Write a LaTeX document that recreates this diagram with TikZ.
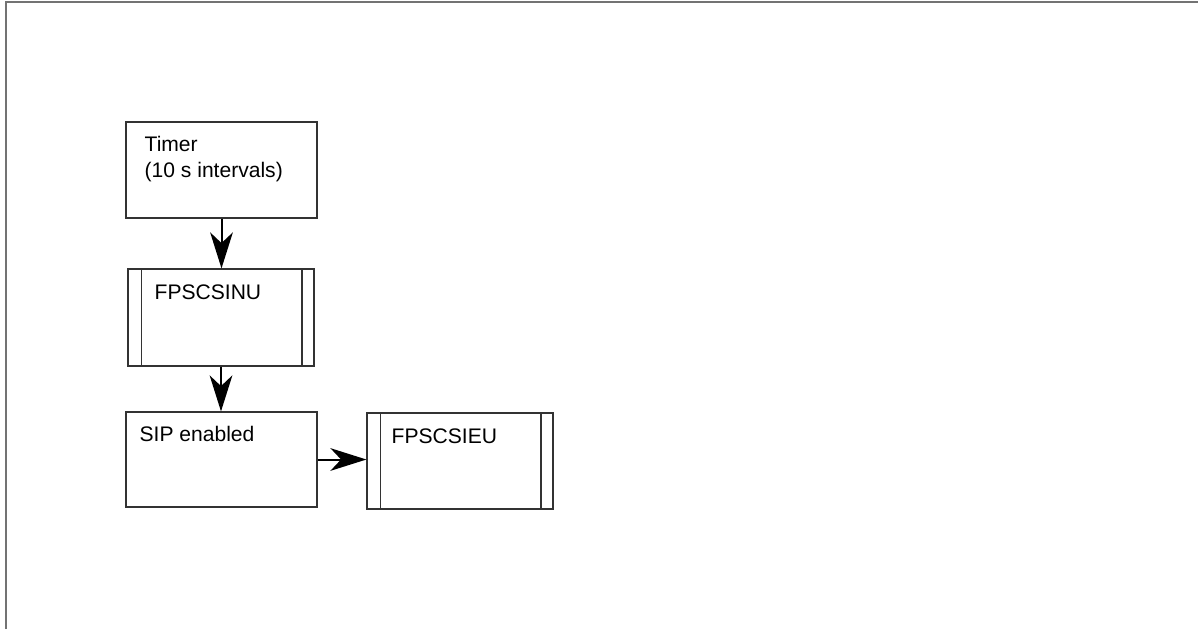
\documentclass[tikz,border=0pt]{standalone}
\usepackage{fontspec}
\setmainfont{Liberation Sans}
\usetikzlibrary{arrows.meta,positioning}
\tikzset{
  box/.style={draw=black!80,line width=0.9pt,minimum width=143.25pt,minimum height=72pt,inner sep=0pt},
  subbox/.style={box,minimum width=139.5pt},
  txt/.style={inner sep=0pt,align=left,font=\fontsize{15.8}{19.5}\selectfont},
  arr/.style={line width=1.5pt,-{Stealth[length=27pt,width=17pt,inset=8pt]}}
}
\begin{document}
\begin{tikzpicture}[x=0.75pt,y=-0.75pt]
\useasboundingbox (0,0) rectangle (1198,629);
% frame
\draw[black!55,line width=1.4pt] (6,629) -- (6,2) -- (1198,2);
% boxes
\node[box] (timer) at (221.5,170) {};
\node[subbox,minimum height=72.75pt] (inu) at (221,317.5) {};
\node[box,minimum height=71.25pt] (sip) at (221.5,459.5) {};
\node[subbox] (ieu) at (460,461) {};
\foreach \n in {inu,ieu}{
  \draw[black!80,line width=0.9pt] ([xshift=10.5pt]\n.north west) -- ([xshift=10.5pt]\n.south west);
  \draw[black!80,line width=0.9pt] ([xshift=-9.5pt]\n.north east) -- ([xshift=-9.5pt]\n.south east);
}
% texts
\node[txt,below right=11.25pt and 14.25pt of timer.north west] (timer-t) {Timer\\(10 s intervals)};
\node[txt,below right=12pt and 20.25pt of inu.north west] (inu-t) {FPSCSINU};
\node[txt,below right=11.25pt and 10.5pt of sip.north west] (sip-t) {SIP enabled};
\node[txt,below right=12pt and 18.75pt of ieu.north west] (ieu-t) {FPSCSIEU};
% arrows
\draw[arr] (timer.south) -- (timer.south |- inu.north);
\draw[arr] (inu.south) -- (inu.south |- sip.north);
\draw[arr] (sip.east) -- (sip.east -| ieu.west);
\end{tikzpicture}
\end{document}
